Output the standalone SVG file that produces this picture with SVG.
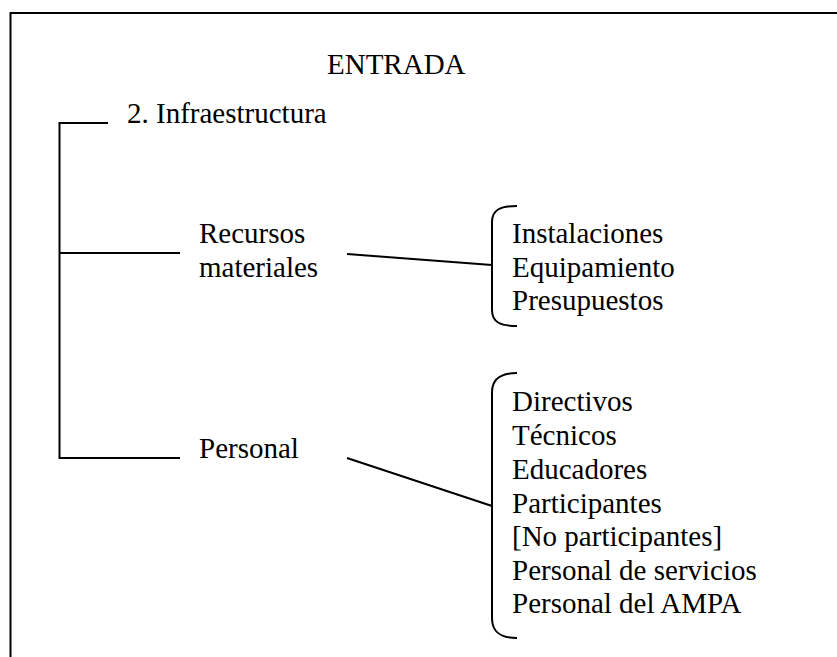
<svg xmlns="http://www.w3.org/2000/svg" width="837" height="657" viewBox="0 0 837 657">
<style>
.t{font-family:'Liberation Serif','Times New Roman',Times,serif;font-size:29px;fill:#000}
.ln{stroke:#000;stroke-width:2;fill:none}
</style>
<rect x="0" y="0" width="837" height="657" fill="#fff"/>
<path class="ln" d="M10.5,657 L10.5,13 L837,13" stroke-width="2.2"/>
<g id="title"><text class="t" x="327" y="74">ENTRADA</text></g>
<g id="infraestructura"><text class="t" x="127" y="123">2. Infraestructura</text></g>
<g id="recursos"><text class="t" x="199" y="243">Recursos</text><text class="t" x="199" y="277">materiales</text></g>
<g id="personal"><text class="t" x="199" y="458">Personal</text></g>
<g id="lista-recursos">
<path class="ln" d="M517,206 C500,206 492,210 492,222 L492,310 C492,322 500,326 517,326"/>
<text class="t" x="512" y="243">Instalaciones</text>
<text class="t" x="512" y="277">Equipamiento</text>
<text class="t" x="512" y="310">Presupuestos</text>
</g>
<g id="lista-personal">
<path class="ln" d="M517,373 C500,373 492,380 492,392 L492,618 C492,632 500,638 517,638"/>
<text class="t" x="512" y="411">Directivos</text>
<text class="t" x="512" y="445">Técnicos</text>
<text class="t" x="512" y="479">Educadores</text>
<text class="t" x="512" y="513">Participantes</text>
<text class="t" x="512" y="546">[No participantes]</text>
<text class="t" x="512" y="580">Personal de servicios</text>
<text class="t" x="512" y="613">Personal del AMPA</text>
</g>
<g id="connectors">
<path class="ln" d="M108,123 L59.5,123 L59.5,458 L180,458"/>
<path class="ln" d="M59.5,253 L180,253"/>
<path class="ln" d="M347,254 L492,265"/>
<path class="ln" d="M347,458 L492,506"/>
</g>
</svg>
